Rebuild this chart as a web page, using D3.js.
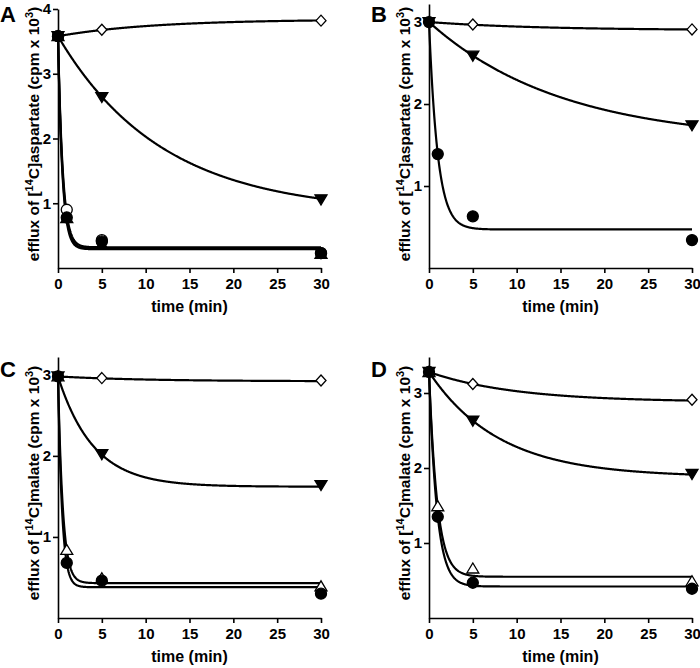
<!DOCTYPE html>
<html><head><meta charset="utf-8">
<script src="https://cdn.jsdelivr.net/npm/d3@7"></script>
<style>
body{margin:0;background:#fff}
svg{display:block}
text{font-family:"Liberation Sans",Arial,Helvetica,sans-serif;font-weight:bold;fill:#000}
</style>
</head><body>
<svg id="chart" width="700" height="668"></svg>
<script>
// ---------- data ----------
const timeTicks = [0, 5, 10, 15, 20, 25, 30];
const panelLetters = ["A", "B", "C", "D"];
const substrates = ["aspartate", "aspartate", "malate", "malate"];
const yTicksA = [1, 2, 3, 4];
const yTicksB = [1, 2, 3];
const yTicksC = [1, 2, 3];
const yTicksD = [1, 2, 3];
const yMaxes = [4, 3.22, 3.22, 3.48];

// measured points [time (min), efflux (cpm x 10^3)]
const aDiamond      = [[0, 3.58], [5, 3.68], [30, 3.82]];
const aInvTri       = [[0, 3.58], [5, 2.64], [30, 1.06]];
const aOpenCircle   = [[0, 3.58], [1, 0.90], [5, 0.43], [30, 0.23]];
const aFilledTri    = [[0, 3.58], [1, 0.77], [5, 0.36], [30, 0.22]];
const aFilledCircle = [[0, 3.58], [1, 0.78], [5, 0.41], [30, 0.23]];

const bDiamond      = [[0, 3.00], [5, 2.97], [30, 2.91]];
const bInvTri       = [[0, 3.00], [5, 2.59], [30, 1.74]];
const bFilledCircle = [[0, 3.00], [1, 1.39], [5, 0.63], [30, 0.34]];

const cDiamond      = [[0, 2.98], [5, 2.96], [30, 2.93]];
const cInvTri       = [[0, 2.98], [5, 2.02], [30, 1.64]];
const cOpenTri      = [[0, 2.98], [1, 0.84], [5, 0.49], [30, 0.39]];
const cFilledCircle = [[0, 2.98], [1, 0.68], [5, 0.46], [30, 0.30]];

const dDiamond      = [[0, 3.28], [5, 3.12], [30, 2.91]];
const dInvTri       = [[0, 3.28], [5, 2.63], [30, 1.92]];
const dOpenTri      = [[0, 3.28], [1, 1.49], [5, 0.66], [30, 0.49]];
const dFilledCircle = [[0, 3.28], [1, 1.35], [5, 0.47], [30, 0.39]];

// one-phase exponential fit parameters [start, plateau, rate k (1/min)]
const aDiamondFit      = [3.58, 3.84, 0.092];
const aInvTriFit       = [3.58, 0.85, 0.084];
const aOpenCircleFit   = [3.58, 0.32, 1.85];
const aFilledTriFit    = [3.58, 0.29, 2.05];
const aFilledCircleFit = [3.58, 0.30, 1.95];

const bDiamondFit      = [3.00, 2.90, 0.08];
const bInvTriFit       = [3.00, 1.54, 0.066];
const bFilledCircleFit = [3.00, 0.47, 1.01];

const cDiamondFit      = [2.98, 2.92, 0.10];
const cInvTriFit       = [2.98, 1.62, 0.248];
const cOpenTriFit      = [2.98, 0.43, 1.83];
const cFilledCircleFit = [2.98, 0.38, 2.17];

const dDiamondFit      = [3.28, 2.88, 0.102];
const dInvTriFit       = [3.28, 1.88, 0.125];
const dOpenTriFit      = [3.28, 0.55, 1.07];
const dFilledCircleFit = [3.28, 0.42, 1.12];

// ---------- panel assembly ----------
const panels = [
  {yTicks: yTicksA, series: [
    {pts: aDiamond, fit: aDiamondFit, sym: "diamondOpen"},
    {pts: aInvTri, fit: aInvTriFit, sym: "invTri"},
    {pts: aOpenCircle, fit: aOpenCircleFit, sym: "circleOpen"},
    {pts: aFilledTri, fit: aFilledTriFit, sym: "tri"},
    {pts: aFilledCircle, fit: aFilledCircleFit, sym: "circle"}]},
  {yTicks: yTicksB, series: [
    {pts: bDiamond, fit: bDiamondFit, sym: "diamondOpen"},
    {pts: bInvTri, fit: bInvTriFit, sym: "invTri"},
    {pts: bFilledCircle, fit: bFilledCircleFit, sym: "circle"}]},
  {yTicks: yTicksC, series: [
    {pts: cDiamond, fit: cDiamondFit, sym: "diamondOpen"},
    {pts: cInvTri, fit: cInvTriFit, sym: "invTri"},
    {pts: cOpenTri, fit: cOpenTriFit, sym: "triOpen"},
    {pts: cFilledCircle, fit: cFilledCircleFit, sym: "circle"}]},
  {yTicks: yTicksD, series: [
    {pts: dDiamond, fit: dDiamondFit, sym: "diamondOpen"},
    {pts: dInvTri, fit: dInvTriFit, sym: "invTri"},
    {pts: dOpenTri, fit: dOpenTriFit, sym: "triOpen"},
    {pts: dFilledCircle, fit: dFilledCircleFit, sym: "circle"}]}
];

// ---------- layout ----------
const colX = [[58, 321], [429, 692]];
const rowYs = [[268, 9], [268, 4], [618, 357], [618, 357]];

const svg = d3.select("#chart");
const symPaths = {
  diamondOpen: "M0,-5.5L5,0L0,5.5L-5,0Z",
  invTri: "M-6,-4.5L6,-4.5L0,5.5Z",
  tri: "M-6,4.5L6,4.5L0,-5.5Z",
  triOpen: "M-6,4.5L6,4.5L0,-5.5Z"
};
const openSyms = new Set(["diamondOpen", "circleOpen", "triOpen"]);

panels.forEach((p, i) => {
  const col = i % 2, row = Math.floor(i / 2);
  const x = d3.scaleLinear().domain([0, 30]).range(colX[col]);
  const y = d3.scaleLinear().domain([0, yMaxes[i]]).range(rowYs[i]);
  const g = svg.append("g");

  // axes
  const xAxis = d3.axisBottom(x).tickValues(timeTicks).tickFormat(d3.format("d"))
    .tickSize(5).tickPadding(5).tickSizeOuter(0);
  const yAxis = d3.axisLeft(y).tickValues(p.yTicks).tickFormat(d3.format("d"))
    .tickSize(5).tickPadding(2).tickSizeOuter(0);
  const gx = g.append("g").attr("transform", `translate(0,${y(0)})`).call(xAxis);
  const gy = g.append("g").attr("transform", `translate(${x(0)},0)`).call(yAxis);
  [gx, gy].forEach(a => {
    a.select(".domain").attr("stroke", "#000").attr("stroke-width", 1.6);
    a.selectAll(".tick line").attr("stroke", "#000").attr("stroke-width", 1.6);
    a.selectAll(".tick text").style("font-size", "15px")
      .style("font-family", "'Liberation Sans',Arial,sans-serif")
      .style("font-weight", "bold").attr("fill", "#000");
  });

  // fitted curves
  const line = d3.line().x(d => x(d[0])).y(d => y(d[1]));
  const tgrid = d3.range(0, 30.001, 0.05);
  p.series.forEach(s => {
    const [a0, pl, k] = s.fit;
    const curve = tgrid.map(t => [t, pl + (a0 - pl) * Math.exp(-k * t)]);
    g.append("path").attr("d", line(curve)).attr("fill", "none")
      .attr("stroke", "#000").attr("stroke-width", 2.2);
  });

  // markers: open first, filled on top
  const ordered = p.series.filter(s => openSyms.has(s.sym))
    .concat(p.series.filter(s => !openSyms.has(s.sym)));
  ordered.forEach(s => {
    const open = openSyms.has(s.sym);
    s.pts.forEach(pt => {
      const cx = x(pt[0]), cy = y(pt[1]);
      if (s.sym === "circle" || s.sym === "circleOpen") {
        g.append("circle").attr("cx", cx).attr("cy", cy).attr("r", 5.5)
          .attr("fill", open ? "#fff" : "#000").attr("stroke", "#000").attr("stroke-width", 1.3);
      } else {
        g.append("path").attr("d", symPaths[s.sym]).attr("transform", `translate(${cx},${cy})`)
          .attr("fill", open ? "#fff" : "#000").attr("stroke", "#000").attr("stroke-width", 1.3);
      }
    });
  });

  // axis titles
  const midX = (colX[col][0] + colX[col][1]) / 2;
  g.append("text").attr("x", midX).attr("y", y(0) + 44).attr("text-anchor", "middle")
    .style("font-size", "16px").text("time (min)");

  const midY = row === 0 ? 134 : 483;
  const yt = g.append("text").attr("transform", `translate(${x(0) - 19},${midY}) rotate(-90)`)
    .attr("text-anchor", "middle").style("font-size", "15.5px");
  yt.append("tspan").text("efflux of [");
  yt.append("tspan").attr("dy", -6).style("font-size", "11px").text("14");
  yt.append("tspan").attr("dy", 6).text("C]" + substrates[i] + " (cpm x 10");
  yt.append("tspan").attr("dy", -6).style("font-size", "11px").text("3");
  yt.append("tspan").attr("dy", 6).text(")");

  // panel letter
  g.append("text").attr("x", col === 0 ? 0 : 371).attr("y", row === 0 ? 22 : 377)
    .style("font-size", "22px").text(panelLetters[i]);
});
</script>
</body></html>
